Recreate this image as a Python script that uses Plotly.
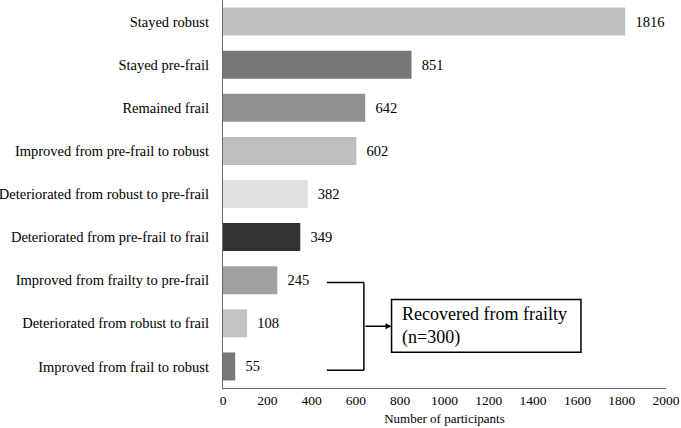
import plotly.graph_objects as go

categories = [
    "Stayed robust",
    "Stayed pre-frail",
    "Remained frail",
    "Improved from pre-frail to robust",
    "Deteriorated from robust to pre-frail",
    "Deteriorated from pre-frail to frail",
    "Improved from frailty to pre-frail",
    "Deteriorated from robust to frail",
    "Improved from frail to robust",
]
values = [1816, 851, 642, 602, 382, 349, 245, 108, 55]
colors = ["#c1c1c1", "#777777", "#909090", "#bebebe", "#e0e0e0",
          "#333333", "#a0a0a0", "#c3c3c3", "#797979"]
x_ticks = [0, 200, 400, 600, 800, 1000, 1200, 1400, 1600, 1800, 2000]

# plot bottom-to-top
cats = categories[::-1]
vals = values[::-1]
cols = colors[::-1]

FONT = "Liberation Serif, Times New Roman, serif"

fig = go.Figure(go.Bar(
    x=vals, y=cats, orientation="h",
    marker=dict(color=cols, line=dict(width=0)),
    text=["\u00a0\u00a0" + str(v) for v in vals], textposition="outside",
    textfont=dict(family=FONT, size=14.5, color="#000"),
    cliponaxis=False, width=0.65,
))

line = dict(color="#000", width=1.5)
shapes = [
    dict(type="line", xref="x", yref="y", x0=469, x1=636, y0=1.95, y1=1.95, line=line),
    dict(type="line", xref="x", yref="y", x0=469, x1=636, y0=-0.09, y1=-0.09, line=line),
    dict(type="line", xref="x", yref="y", x0=636, x1=636, y0=1.95, y1=-0.09, line=line),
    dict(type="rect", xref="x", yref="y", x0=761, x1=1616, y0=1.55, y1=0.33,
         line=dict(color="#000", width=1.5), fillcolor="#fff"),
]
annotations = [
    dict(x=761, y=0.93, xref="x", yref="y", ax=636, ay=0.93, axref="x", ayref="y",
         showarrow=True, arrowhead=2, arrowsize=0.8, arrowwidth=1.5, arrowcolor="#000", text=""),
    dict(x=797, y=0.94, xref="x", yref="y", xanchor="left", yanchor="middle",
         showarrow=False, align="left",
         text="Recovered from frailty<br>(n=300)",
         font=dict(family=FONT, size=18, color="#000")),
]

fig.update_layout(
    width=681, height=428,
    margin=dict(l=223, r=15, t=0, b=40),
    paper_bgcolor="#fff", plot_bgcolor="#fff",
    showlegend=False,
    font=dict(family=FONT, size=14, color="#000"),
    bargap=0.35,
    shapes=shapes, annotations=annotations,
    xaxis=dict(range=[0, 2000], tickvals=x_ticks, showgrid=False, zeroline=False,
               showline=True, linecolor="#6a6a6a", linewidth=1.2,
               tickfont=dict(family=FONT, size=13.5, color="#000"),
               title=dict(text="Number of participants", standoff=6,
                          font=dict(family=FONT, size=13, color="#000"))),
    yaxis=dict(showgrid=False, zeroline=False, showline=True, linecolor="#6a6a6a",
               linewidth=1.2, ticks="outside", ticklen=10, tickcolor="rgba(0,0,0,0)",
               tickfont=dict(family=FONT, size=14.5, color="#000"),
               range=[-0.5, 8.5]),
)

fig.write_html("out.html", config={"displayModeBar": False},
               post_script="document.body.style.margin='0px';document.body.style.overflow='hidden';")
